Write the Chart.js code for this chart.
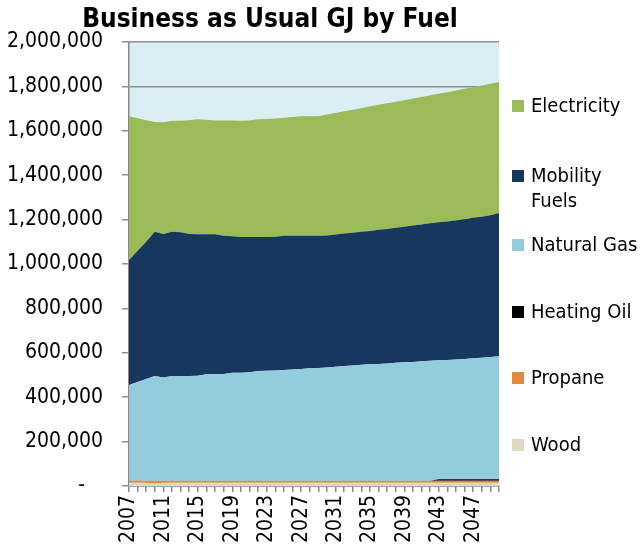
<!DOCTYPE html>
<html>
<head>
<meta charset="utf-8">
<script src="https://cdn.jsdelivr.net/npm/chart.js@4.4.1/dist/chart.umd.min.js"></script>
<style>
  html, body { margin: 0; padding: 0; background: #fff; }
  #wrap { width: 642px; height: 554px; }
</style>
</head>
<body>
<div id="wrap"><canvas id="myChart" width="642" height="554"></canvas></div>
<script>
// categories
var years = ['2007','2008','2009','2010','2011','2012','2013','2014','2015','2016',
  '2017','2018','2019','2020','2021','2022','2023','2024','2025','2026',
  '2027','2028','2029','2030','2031','2032','2033','2034','2035','2036',
  '2037','2038','2039','2040','2041','2042','2043','2044','2045','2046',
  '2047','2048','2049','2050'];

// GJ per fuel (stacked, bottom to top)
var wood = [15000,15000,15000,11000,15000,15000,15000,15000,15000,15000,
  15000,15000,15000,15000,15000,15000,15000,15000,15000,15000,
  15000,15000,15000,15000,15000,15000,15000,15000,15000,15000,
  15000,15000,15000,15000,15000,15000,15000,15000,15000,15000,
  15000,15000,15000,15000];
var propane = [9000,9000,9000,13000,9000,9000,9000,9000,9000,9000,
  9000,9000,9000,9000,9000,9000,9000,9000,9000,9000,
  9000,9000,9000,9000,9000,9000,9000,9000,9000,9000,
  9000,9000,9000,9000,9000,9000,9000,9000,9000,9000,
  9000,9000,9000,9000];
var heatingOil = [0,0,0,0,0,0,0,0,0,0,
  0,0,0,0,0,0,0,0,0,0,
  0,0,0,0,0,0,0,0,0,0,
  0,0,0,0,0,0,6000,6000,6000,6000,
  6000,6000,6000,6000];
var naturalGas = [431000,444000,458000,471000,465000,472000,472000,472000,473000,479000,
  480000,481000,486000,486000,488000,494000,495000,496000,498000,501000,
  503000,506000,508000,510000,513000,516000,519000,522000,524000,526000,
  528000,531000,533000,535000,538000,540000,536000,538000,540000,542000,
  545000,548000,551000,555000];
var mobility = [562000,592000,618000,650000,646000,649000,647000,639000,637000,631000,
  630000,622000,615000,612000,610000,604000,603000,603000,605000,602000,
  600000,597000,595000,594000,596000,597000,598000,599000,601000,604000,
  606000,608000,611000,614000,616000,619000,622000,623000,626000,630000,
  633000,635000,639000,645000];
var electricity = [649000,597000,548000,495000,503000,500000,502000,513000,518000,516000,
  512000,519000,521000,523000,524000,530000,531000,532000,532000,535000,
  538000,539000,539000,545000,547000,551000,554000,557000,561000,563000,
  566000,568000,570000,572000,574000,577000,579000,583000,586000,587000,
  588000,591000,592000,590000];

var seriesNames = ['Wood', 'Propane', 'Heating Oil', 'Natural Gas', 'Mobility Fuels', 'Electricity'];
var seriesData = [wood, propane, heatingOil, naturalGas, mobility, electricity];
var seriesColors = ['#DDD9C3', '#E3883D', '#000000', '#93CDDD', '#17375E', '#9BBB59'];

var titleText = 'Business as Usual GJ by Fuel';
var FONT = "'DejaVu Sans Condensed', 'DejaVu Sans', sans-serif";

Chart.defaults.font.family = FONT;
Chart.defaults.color = '#000';

// light blue plot background, title and legend
var decor = {
  id: 'decor',
  beforeDraw: function (chart) {
    var a = chart.chartArea, ctx = chart.ctx;
    ctx.save();
    ctx.fillStyle = '#DBEEF4';
    ctx.fillRect(a.left, a.top, a.right - a.left, a.bottom - a.top);
    ctx.restore();
  },
  afterDraw: function (chart) {
    var ctx = chart.ctx;
    ctx.save();
    ctx.fillStyle = '#000';
    ctx.font = 'bold 26px ' + FONT;
    ctx.textAlign = 'center';
    ctx.textBaseline = 'alphabetic';
    ctx.fillText(titleText, 270, 27);

    // legend, top item is last dataset
    var centers = [106, 176, 245, 312, 378, 445];
    ctx.font = '20px ' + FONT;
    ctx.textAlign = 'left';
    ctx.textBaseline = 'middle';
    var ds = chart.data.datasets;
    for (var k = 0; k < ds.length; k++) {
      var d = ds[ds.length - 1 - k];
      var cy = centers[k];
      ctx.fillStyle = d.backgroundColor;
      ctx.fillRect(512, cy - 6, 12, 12);
      ctx.fillStyle = '#000';
      // wrap long labels
      var words = d.label.split(' ');
      var lines = [], cur = '';
      words.forEach(function (w) {
        var t = cur ? cur + ' ' + w : w;
        if (ctx.measureText(t).width > 110 && cur) { lines.push(cur); cur = w; }
        else cur = t;
      });
      lines.push(cur);
      lines.forEach(function (ln, j) {
        ctx.fillText(ln, 531, cy + 1 + j * 25);
      });
    }
    ctx.restore();
  }
};

var ctx = document.getElementById('myChart').getContext('2d');
var myChart = new Chart(ctx, {
  type: 'line',
  data: {
    labels: years,
    datasets: seriesData.map(function (vals, i) {
      return {
        label: seriesNames[i],
        data: vals,
        backgroundColor: seriesColors[i],
        borderColor: seriesColors[i],
        borderWidth: 0,
        pointRadius: 0,
        tension: 0,
        fill: i === 0 ? 'origin' : '-1'
      };
    })
  },
  options: {
    responsive: false,
    animation: false,
    layout: { padding: { top: 42, right: 143, bottom: 0, left: 0 } },
    plugins: {
      legend: { display: false },
      title: { display: false },
      tooltip: { enabled: false }
    },
    scales: {
      x: {
        offset: false,
        grid: { drawOnChartArea: false, drawTicks: true, tickLength: 6, color: '#8a8a8a', lineWidth: 1.5 },
        border: { color: '#8a8a8a', width: 1.5 },
        ticks: {
          autoSkip: false,
          maxRotation: 90,
          minRotation: 90,
          padding: 3,
          font: { size: 21 },
          callback: function (v, i) { return i % 4 === 0 ? years[i] : ''; }
        },
        afterFit: function (s) { s.height = 68; }
      },
      y: {
        stacked: true,
        min: 0,
        max: 2000000,
        grid: { color: '#8e8e8e', lineWidth: 1.5, tickLength: 7 },
        border: { color: '#8a8a8a', width: 1.5 },
        ticks: {
          stepSize: 200000,
          padding: 19,
          font: { size: 21 },
          callback: function (v) { return v === 0 ? '-   ' : v.toLocaleString('en-US'); }
        },
        afterFit: function (s) { s.width = 129; }
      }
    }
  },
  plugins: [decor]
});
</script>
</body>
</html>
